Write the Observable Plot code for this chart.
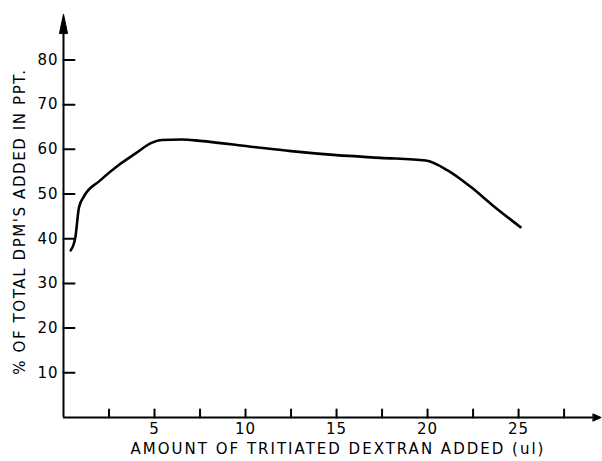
<!DOCTYPE html>
<html>
<head>
<meta charset="utf-8">
<script src="https://cdn.jsdelivr.net/npm/d3@7"></script>
<script src="https://cdn.jsdelivr.net/npm/@observablehq/plot@0.6"></script>
<style>
  html, body { margin: 0; padding: 0; background: #fff; }
  svg text { letter-spacing: 1px; }
</style>
</head>
<body>
<div id="chart"></div>
<script>
// Data
const xValues = [0.4, 0.65, 0.85, 1.1, 2.0, 3.0, 4.0, 4.8, 5.4, 6.5, 7.5, 10.3, 12.5, 15, 17.4, 19.9, 21.1, 22.4, 23.6, 25.1];
const yValues = [37.4, 40.3, 47.0, 49.3, 53.0, 56.4, 59.2, 61.4, 62.1, 62.2, 61.9, 60.6, 59.6, 58.7, 58.1, 57.5, 55.3, 51.5, 47.4, 42.6];
const xTicks = [2.5, 5, 7.5, 10, 12.5, 15, 17.5, 20, 22.5, 25, 27.5];
const xTickLabels = [5, 10, 15, 20, 25];
const yTicks = [10, 20, 30, 40, 50, 60, 70, 80];
const xTitle = "AMOUNT OF TRITIATED DEXTRAN ADDED (ul)";
const yTitle = "% OF TOTAL DPM'S ADDED IN PPT.";
const xMax = 29.5;
const yMax = 90.4;
const yAxisTop = 86;   // base of the y-axis arrowhead
const xAxisEnd = 29.1; // base of the x-axis arrowhead

const curve = xValues.map((x, i) => ({x, y: yValues[i]}));

const lineShape = {
  draw(context, l) { context.moveTo(0, 0); context.lineTo(0, -l); }
};
const spikeShape = {
  draw(context, l, r) {
    context.moveTo(-r, 0); context.lineTo(0, -l); context.lineTo(r, 0); context.closePath();
  }
};

const chart = Plot.plot({
  width: 602,
  height: 461,
  marginLeft: 63,
  marginRight: 2,
  marginTop: 13,
  marginBottom: 44,
  style: {fontFamily: "'DejaVu Sans', sans-serif", fontSize: "15px", color: "#000", background: "#fff"},
  x: {domain: [0, xMax]},
  y: {domain: [0, yMax]},
  marks: [
    // axis lines
    Plot.ruleY([0], {x1: 0, x2: xAxisEnd, stroke: "#000", strokeWidth: 2}),
    Plot.ruleX([0], {y1: 0, y2: yAxisTop, stroke: "#000", strokeWidth: 2}),
    // arrowheads
    Plot.vector([0], {x: 0, y: yAxisTop, length: 19, r: 4, rotate: 0, anchor: "start", shape: spikeShape, fill: "#000", stroke: "#000", strokeWidth: 1}),
    Plot.vector([0], {x: xAxisEnd, y: 0, length: 8, r: 3.5, rotate: 90, anchor: "start", shape: spikeShape, fill: "#000", stroke: "#000", strokeWidth: 1}),
    // tick marks (inward)
    Plot.vector(xTicks, {x: d => d, y: 0, length: 8, rotate: 0, anchor: "start", shape: lineShape, stroke: "#000", strokeWidth: 2}),
    Plot.vector(yTicks, {x: 0, y: d => d, length: 11, rotate: 90, anchor: "start", shape: lineShape, stroke: "#000", strokeWidth: 2}),
    // tick labels
    Plot.axisX({ticks: xTickLabels, tickSize: 0, tickPadding: 6, label: null, fontSize: 15, fill: "#000"}),
    Plot.axisY({ticks: yTicks, tickSize: 0, tickPadding: 5, label: null, fontSize: 15, fill: "#000"}),
    // titles
    Plot.text([xTitle], {frameAnchor: "bottom", dy: 36, dx: 6, text: d => d, fontSize: 15, fill: "#000"}),
    Plot.text([yTitle], {frameAnchor: "left", textAnchor: "middle", rotate: -90, dx: -43, dy: 6, text: d => d, fontSize: 15, fill: "#000"}),
    // data curve
    Plot.line(curve, {x: "x", y: "y", curve: "monotone-x", stroke: "#000", strokeWidth: 2.6, strokeLinecap: "round"})
  ]
});
d3.select(chart).selectAll("text").each(function () {
  const t = this.textContent;
  if (t === xTitle) this.style.letterSpacing = "2px";
  else if (t === yTitle) this.style.letterSpacing = "1.6px";
});
document.getElementById("chart").appendChild(chart);
</script>
</body>
</html>
